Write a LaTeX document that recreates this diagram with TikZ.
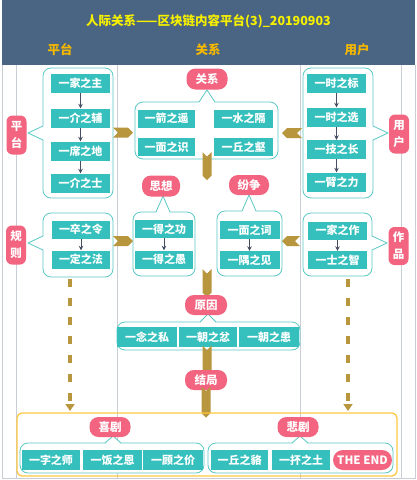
\documentclass[tikz,border=0pt]{standalone}
\usepackage{fontspec}
\setmainfont{Noto Sans CJK SC}
\usetikzlibrary{shapes.symbols,arrows.meta}
\definecolor{headbg}{HTML}{4A6483}
\definecolor{titley}{HTML}{F6F000}
\definecolor{subhead}{HTML}{F5B800}
\definecolor{teal}{HTML}{35C0BD}
\definecolor{pinkc}{HTML}{F2647F}
\definecolor{cline}{HTML}{5AC8C5}
\definecolor{goldc}{HTML}{B8963E}
\definecolor{darr}{HTML}{444E60}
\definecolor{gridc}{HTML}{C8CDD6}
\definecolor{framey}{HTML}{FFC843}
\newcommand{\callbox}[4]{\draw[callout] (#1,#2) rectangle (#3,#4);}
\newcommand{\ptrL}[5]{\fill[white] ({#1+1},#2) -- (#4,#5) -- ({#1+1},#3) -- cycle; \draw[callline] (#1,#2) -- (#4,#5) -- (#1,#3);}
\newcommand{\ptrR}[5]{\fill[white] ({#1-1},#2) -- (#4,#5) -- ({#1-1},#3) -- cycle; \draw[callline] (#1,#2) -- (#4,#5) -- (#1,#3);}
\newcommand{\ptrU}[5]{\fill[white] (#2,{#1+1}) -- (#4,#5) -- (#3,{#1+1}) -- cycle; \draw[callline] (#2,#1) -- (#4,#5) -- (#3,#1);}
\begin{document}
\begin{tikzpicture}[x=1pt,y=-1pt,
  grid/.style={draw=gridc,line width=0.7pt},
  title/.style={text=titley,font=\fontsize{12.5}{14}\selectfont\bfseries,inner sep=0},
  subh/.style={text=subhead,font=\fontsize{12.5}{14}\selectfont\bfseries,inner sep=0},
  callout/.style={draw=cline,line width=0.8pt,fill=white,rounded corners=8pt},
  callline/.style={draw=cline,line width=0.8pt,line join=round},
  tbox/.style={fill=teal,text=white,minimum width=59pt,minimum height=19pt,inner sep=0,font=\fontsize{11}{12}\selectfont\bfseries},
  pinkh/.style={fill=pinkc,text=white,rounded corners=9pt,minimum width=41pt,minimum height=21pt,inner sep=0,font=\fontsize{11.5}{13}\selectfont\bfseries},
  pinkv/.style={fill=pinkc,text=white,rounded corners=6pt,minimum width=20pt,minimum height=39pt,inner sep=0,align=center,font=\fontsize{11.5}{17}\selectfont\bfseries},
  darrow/.style={draw=darr,line width=0.8pt,-{Stealth[length=4.5pt,width=4.5pt]}},
  goldR/.style={signal,signal to=east,signal from=west,fill=goldc,minimum width=20pt,minimum height=10pt,inner sep=0},
  goldL/.style={signal,signal to=west,signal from=east,fill=goldc,minimum width=20pt,minimum height=10pt,inner sep=0},
  goldD/.style={signal,signal to=south,signal from=north,fill=goldc,minimum width=9pt,minimum height=19pt,inner sep=0},
  gdash/.style={draw=goldc,line width=3.5pt,dash pattern=on 8pt off 11pt,-{Triangle[width=9pt,length=7pt]}},
  frame/.style={draw=framey,line width=1.3pt,rounded corners=5pt}]
\useasboundingbox (0,0) rectangle (417,480);
\fill[white] (0,0) rectangle (417,480);
\fill[headbg] (2,0) rectangle (415,65);
\draw[grid] (2,65) -- (2,478) -- (415,478) -- (415,65);
\foreach \gx in {16,117,300,401} {\draw[grid] (\gx,65) -- (\gx,478);}
\node[title] (title) at (208.5,21) {人际关系——区块链内容平台(3)\_20190903};
\node[subh] (h1) at (60,50) {平台};
\node[subh] (h2) at (208,50) {关系};
\node[subh] (h3) at (357,50) {用户};
% ---- callouts
\callbox{43}{68}{113}{198}\ptrL{43}{126}{140}{28}{133}
\callbox{303}{68}{373}{198}\ptrR{373}{126}{140}{388}{133}
\callbox{135}{102}{278}{159}\ptrU{102}{199}{215}{207}{90}
\callbox{43}{213}{113}{277}\ptrL{43}{236}{250}{28}{243}
\callbox{133}{212}{195}{276}\ptrU{212}{156}{170}{163}{196}
\callbox{217}{211}{282}{276}\ptrU{211}{242}{256}{249}{195}
\callbox{303}{213}{372}{276}\ptrR{372}{236}{250}{387}{243}
\callbox{117}{322}{300}{350}\ptrU{322}{200}{216}{208}{314}
\callbox{20}{443}{204}{473}\ptrU{443}{105}{121}{113}{436}
\callbox{208}{443}{393}{473}\ptrU{443}{292}{308}{300}{436}
% ---- left column
\node[tbox] (a1) at (80.5,83.5) {一家之主};
\node[tbox] (a2) at (80.5,118) {一介之辅};
\node[tbox] (a3) at (80.5,151) {一席之地};
\node[tbox] (a4) at (80.5,183) {一介之士};
\draw[darrow] (a1) -- (a2);
\draw[darrow] (a2) -- (a3);
\draw[darrow] (a3) -- (a4);
\node[pinkv] (pt) at (16.5,135) {平\\台};
% ---- right column
\node[tbox] (b1) at (336.5,83.5) {一时之标};
\node[tbox] (b2) at (336.5,117) {一时之选};
\node[tbox] (b3) at (336.5,149.5) {一技之长};
\node[tbox] (b4) at (336.5,182) {一臂之力};
\draw[darrow] (b1) -- (b2);
\draw[darrow] (b2) -- (b3);
\draw[darrow] (b3) -- (b4);
\node[pinkv] (yh) at (399,134) {用\\户};
% ---- center top
\node[pinkh] (gx) at (207,79) {关系};
\node[tbox,minimum width=57pt,minimum height=18pt] (c1) at (166.5,118.5) {一箭之遥};
\node[tbox,minimum height=18pt] (c2) at (243.5,118.5) {一水之隔};
\node[tbox,minimum width=57pt,minimum height=18pt] (c3) at (166.5,147) {一面之识};
\node[tbox,minimum height=18pt] (c4) at (243.5,147) {一丘之壑};
\node[goldR] (g1) at (123,132.5) {};
\node[goldL] (g2) at (292,133) {};
\node[goldD] (g3) at (207,166) {};
% ---- second row
\node[tbox,minimum width=58pt,minimum height=18pt] (d1) at (81,229.5) {一卒之令};
\node[tbox,minimum width=58pt,minimum height=18pt] (d2) at (81,259.5) {一定之法};
\draw[darrow] (d1) -- (d2);
\node[pinkv] (gz) at (16,245) {规\\则};
\node[pinkh,minimum width=38pt] (sx) at (161,186) {思想};
\node[tbox,minimum width=58pt,minimum height=18pt] (e1) at (164,229) {一得之功};
\node[tbox,minimum width=58pt,minimum height=18pt] (e2) at (164,259.5) {一得之愚};
\draw[darrow] (e1) -- (e2);
\node[pinkh,minimum width=40pt,minimum height=20pt] (fz) at (249,185) {纷争};
\node[tbox,minimum width=60pt,minimum height=18pt] (f1) at (249.5,230) {一面之词};
\node[tbox,minimum width=60pt,minimum height=18pt] (f2) at (249.5,260) {一隅之见};
\draw[darrow] (f1) -- (f2);
\node[tbox,minimum height=18pt] (h1b) at (337.5,230.5) {一家之作};
\node[tbox,minimum height=18pt] (h2b) at (337.5,260) {一士之智};
\draw[darrow] (h1b) -- (h2b);
\node[pinkv,minimum height=38pt] (zp) at (398.5,246) {作\\品};
\node[goldR] (g4) at (123,241) {};
\node[goldL,minimum width=18pt] (g5) at (291,241) {};
\node[goldD] (g6) at (207,283) {};
\coordinate (ds1) at (70,279);
\coordinate (de1) at (70,411);
\coordinate (ds2) at (348,279);
\coordinate (de2) at (348,411);
\draw[gdash] (ds1) -- (de1);
\draw[gdash] (ds2) -- (de2);
% ---- cause
\node[pinkh,minimum width=42pt,minimum height=20pt] (yy) at (206,305) {原因};
\node[tbox,minimum width=60pt,minimum height=20pt] (k1) at (147,337) {一念之私};
\node[tbox,minimum width=58pt,minimum height=20pt] (k2) at (208,337) {一朝之忿};
\node[tbox,minimum width=60pt,minimum height=20pt] (k3) at (269,337) {一朝之患};
\node[goldD,minimum height=20pt] (g7) at (207,360) {};
\node[pinkh,minimum width=42pt,minimum height=20pt] (jj) at (206,380) {结局};
\node[goldD,minimum height=22pt] (g8) at (206,402) {};
% ---- ending
\draw[frame] (17,413) rectangle (397,476);
\node[pinkh,minimum height=20pt] (xj) at (110,427) {喜剧};
\node[tbox,minimum width=58pt,minimum height=20pt] (m1) at (51,460) {一字之师};
\node[tbox,minimum width=59pt,minimum height=20pt] (m2) at (112.5,460) {一饭之恩};
\node[tbox,minimum width=60pt,minimum height=20pt] (m3) at (173,460) {一顾之价};
\node[pinkh,minimum height=20pt] (bj) at (298,427) {悲剧};
\node[tbox,minimum width=57pt,minimum height=20pt] (n1) at (239.5,460) {一丘之貉};
\node[tbox,minimum width=58pt,minimum height=20pt] (n2) at (301,460) {一抔之土};
\node[pinkh,minimum width=59pt,minimum height=20pt,rounded corners=10pt] (te) at (362.5,460) {THE END};
\end{tikzpicture}
\end{document}
